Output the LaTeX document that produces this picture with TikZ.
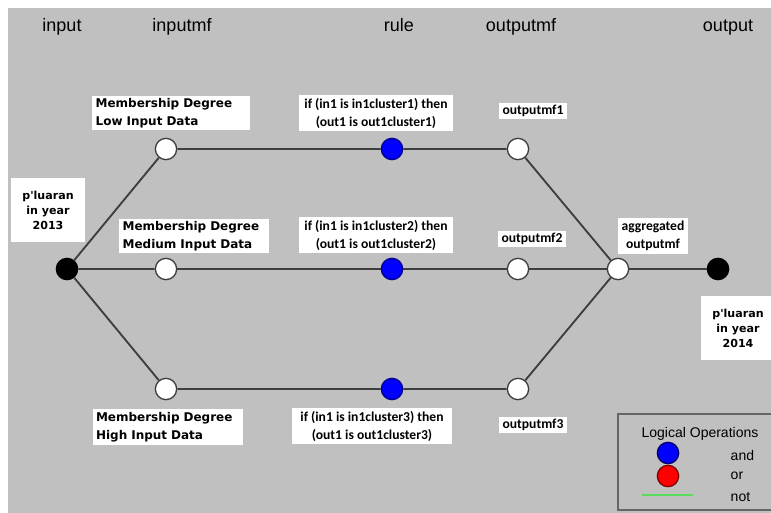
\documentclass[tikz,border=0pt]{standalone}
\usepackage{fontspec}
\setmainfont{Liberation Sans}
\newfontfamily\tagfont{DejaVu Sans}
\newfontfamily\rulefont{Carlito}
\definecolor{panel}{RGB}{192,192,192}
\definecolor{wiregray}{RGB}{62,62,62}
\definecolor{notgreen}{RGB}{90,220,90}
\begin{document}
\begin{tikzpicture}[x=0.75pt,y=-0.75pt,
  link/.style={draw=wiregray,line width=1.4pt},
  mf/.style={circle,draw=wiregray,fill=white,line width=1pt,minimum size=16pt,inner sep=0pt},
  rl/.style={mf,draw=blue!55!black,fill=blue},
  io/.style={mf,draw=black,fill=black},
  tag/.style={fill=white,inner xsep=2.5pt,inner ysep=2pt,align=left,
    font=\tagfont\bfseries\fontsize{9}{13.5}\selectfont},
  yeartag/.style={tag,align=center,minimum width=55pt,minimum height=48pt,
    font=\tagfont\bfseries\fontsize{8.3}{11.25}\selectfont},
  ruletag/.style={fill=white,inner xsep=3pt,inner ysep=2pt,align=center,
    font=\rulefont\bfseries\fontsize{10.2}{13.5}\selectfont},
  head/.style={anchor=base,font=\fontsize{13.5}{15}\selectfont},
  legtext/.style={font=\fontsize{10.5}{12}\selectfont}]
\useasboundingbox (0,0) rectangle (771,513);
\fill[white] (0,0) rectangle (771,513);
\fill[panel] (8,8) rectangle (771,513);

% column titles
\node[head] (hin)   at (62,32)  {input};
\node[head] (hinmf) at (182,32) {inputmf};
\node[head] (hrule) at (399,32) {rule};
\node[head] (houtmf) at (521,32) {outputmf};
\node[head] (hout)  at (728,32) {output};

% nodes
\node[io] (in)   at (67,269)  {};
\node[mf] (mf1)  at (166,149) {};
\node[mf] (mf2)  at (166,269) {};
\node[mf] (mf3)  at (166,389) {};
\node[rl] (r1)   at (392,149) {};
\node[rl] (r2)   at (392,269) {};
\node[rl] (r3)   at (392,389) {};
\node[mf] (om1)  at (518,149) {};
\node[mf] (om2)  at (518,269) {};
\node[mf] (om3)  at (518,389) {};
\node[mf] (agg)  at (618,269) {};
\node[io] (out)  at (718,269) {};

% connectors
\draw[link] (in) -- (mf1) (in) -- (mf2) (in) -- (mf3);
\draw[link] (mf1) -- (r1) -- (om1) -- (agg);
\draw[link] (mf2) -- (r2) -- (om2) -- (agg);
\draw[link] (mf3) -- (r3) -- (om3) -- (agg);
\draw[link] (agg) -- (out);

% labels
\node[yeartag] (y13) at (48,210) {p'luaran\\in year\\2013};
\node[yeartag] (y14) at (738,328) {p'luaran\\in year\\2014};
\node[tag,text width=113pt] (low) at (171,113) {Membership Degree\\Low Input Data};
\node[tag,text width=107pt] (med) at (194,236) {Membership Degree\\Medium Input Data};
\node[tag,text width=108pt] (high) at (168,427) {Membership Degree\\High Input Data};
\node[ruletag,minimum width=115pt] (rt1) at (376,113) {if (in1 is in1cluster1) then\\(out1 is out1cluster1)};
\node[ruletag,minimum width=115pt] (rt2) at (376,235) {if (in1 is in1cluster2) then\\(out1 is out1cluster2)};
\node[ruletag,minimum width=120pt] (rt3) at (372,426) {if (in1 is in1cluster3) then\\(out1 is out1cluster3)};
\node[ruletag] (ot1) at (533,111) {outputmf1};
\node[ruletag] (ot2) at (532,239) {outputmf2};
\node[ruletag] (ot3) at (533,425) {outputmf3};
\node[ruletag] (aggt) at (653,236) {aggregated\\outputmf};

% legend
\draw[wiregray!80,line width=0.8pt] (618,414) rectangle (775,510);
\node[legtext] (lgt) at (700,434) {Logical Operations};
\node[rl,draw=blue!40!black] (land) at (668,453) {};
\node[mf,draw=red!50!black,fill=red] (lor) at (668,476) {};
\coordinate (ng1) at (642,495);
\coordinate (ng2) at (693,495);
\draw[notgreen,line width=2pt] (ng1) -- (ng2);
\node[legtext,anchor=west] (tand) at (726,455) {and};
\node[legtext,anchor=west] (tor)  at (726,476) {or};
\node[legtext,anchor=west] (tnot) at (726,497) {not};
\end{tikzpicture}
\end{document}
